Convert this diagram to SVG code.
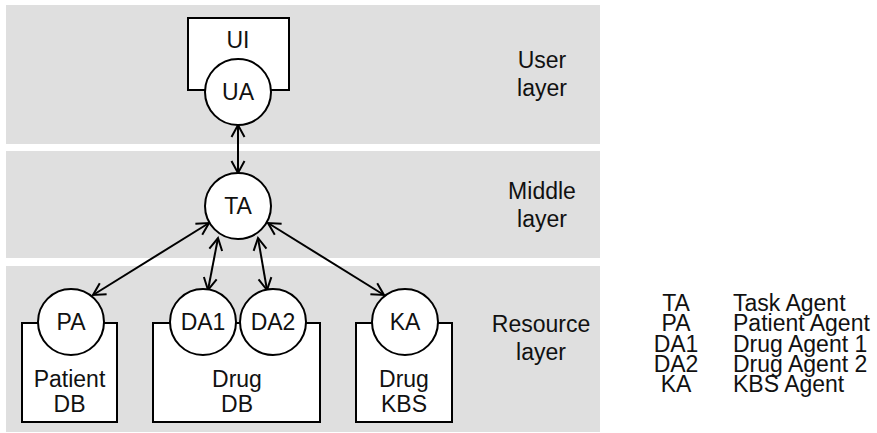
<svg xmlns="http://www.w3.org/2000/svg" width="877" height="433" viewBox="0 0 877 433">
<defs>
<style>
.band{fill:#dfdfdf;}
.box{fill:#fff;stroke:#000;stroke-width:2;}
.node{fill:#fff;stroke:#000;stroke-width:2;}
text{font-family:"Liberation Sans",Arial,sans-serif;font-size:23px;fill:#111;}
.c{text-anchor:middle;}
.edge{stroke:#000;stroke-width:2;fill:none;marker-start:url(#ah);marker-end:url(#ah);}
</style>
<marker id="ah" markerUnits="userSpaceOnUse" markerWidth="30" markerHeight="30" viewBox="-15 -15 30 30" refX="0" refY="0" orient="auto-start-reverse">
<path d="M-12,-6.5 L0,0 L-12,6.5" fill="none" stroke="#000" stroke-width="2"/>
</marker>
</defs>
<rect width="877" height="433" fill="#fff"/>
<g id="layers">
<rect class="band" x="6" y="5" width="594" height="139"/>
<rect class="band" x="6" y="151" width="594" height="107"/>
<rect class="band" x="6" y="266" width="594" height="166"/>
<text class="c" x="542" y="68">User</text>
<text class="c" x="542" y="96">layer</text>
<text class="c" x="542" y="199">Middle</text>
<text class="c" x="542" y="227">layer</text>
<text class="c" x="541" y="332">Resource</text>
<text class="c" x="541" y="360">layer</text>
</g>
<g id="connectors">
<line class="edge" x1="238" y1="125" x2="238" y2="173"/>
<line class="edge" x1="209" y1="223" x2="93" y2="295"/>
<line class="edge" x1="218" y1="238" x2="208" y2="290"/>
<line class="edge" x1="258" y1="238" x2="267" y2="290"/>
<line class="edge" x1="268" y1="223" x2="384" y2="295"/>
</g>
<g id="UI">
<rect class="box" x="188" y="18" width="101" height="72"/>
<text class="c" x="238" y="48">UI</text>
</g>
<g id="UA">
<circle class="node" cx="238" cy="92" r="33"/>
<text class="c" x="238" y="100">UA</text>
</g>
<g id="TA">
<circle class="node" cx="238" cy="206" r="33"/>
<text class="c" x="238" y="214">TA</text>
</g>
<g id="PatientDB">
<rect class="box" x="22" y="323" width="95" height="99"/>
<text class="c" x="69.5" y="387">Patient</text>
<text class="c" x="69.5" y="412">DB</text>
</g>
<g id="PA">
<circle class="node" cx="71" cy="322" r="33"/>
<text class="c" x="71" y="330">PA</text>
</g>
<g id="DrugDB">
<rect class="box" x="153" y="323" width="167" height="99"/>
<text class="c" x="237" y="387">Drug</text>
<text class="c" x="237" y="412">DB</text>
</g>
<g id="DA1">
<circle class="node" cx="203" cy="322" r="33"/>
<text class="c" x="203" y="330">DA1</text>
</g>
<g id="DA2">
<circle class="node" cx="273" cy="322" r="33"/>
<text class="c" x="273" y="330">DA2</text>
</g>
<g id="DrugKBS">
<rect class="box" x="356" y="323" width="96" height="99"/>
<text class="c" x="404" y="387">Drug</text>
<text class="c" x="404" y="412">KBS</text>
</g>
<g id="KA">
<circle class="node" cx="405" cy="322" r="33"/>
<text class="c" x="405" y="330">KA</text>
</g>
<g id="legend">
<text class="c" x="676" y="311">TA</text>
<text class="c" x="676" y="331">PA</text>
<text class="c" x="676" y="351.5">DA1</text>
<text class="c" x="676" y="372">DA2</text>
<text class="c" x="676" y="392">KA</text>
<text x="733" y="311">Task Agent</text>
<text x="733" y="331">Patient Agent</text>
<text x="733" y="351.5">Drug Agent 1</text>
<text x="733" y="372">Drug Agent 2</text>
<text x="733" y="392">KBS Agent</text>
</g>
</svg>
